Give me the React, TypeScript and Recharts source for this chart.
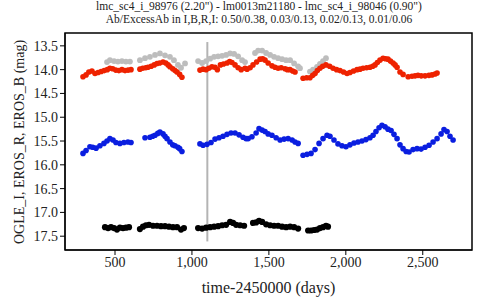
import React from "react";
import {
  ScatterChart,
  Scatter,
  XAxis,
  YAxis,
  ReferenceLine,
  ReferenceArea,
} from "recharts";

// EROS R
const redDays = [
  292, 312, 330, 350, 370, 390, 410, 430, 450, 467, 485, 505, 525, 545, 565, 585, 604,
  662, 680, 700, 714, 735, 755, 773, 790, 812, 830, 845, 857, 875, 890, 903, 920, 935,
  1052, 1072, 1092, 1110, 1130, 1150, 1165, 1185, 1205, 1228, 1245, 1260, 1280, 1300, 1320, 1345,
  1358, 1378, 1397, 1420, 1443, 1460, 1475, 1495, 1520, 1540, 1560, 1580, 1605, 1620, 1637, 1655, 1670,
  1722, 1745, 1767, 1785, 1800, 1815, 1832, 1850, 1871, 1895, 1917, 1940, 1962, 1985, 2008,
  2027, 2050, 2073, 2092, 2112, 2135, 2157, 2175, 2190, 2205, 2222, 2242, 2258, 2274, 2290, 2307,
  2320, 2333, 2352, 2372, 2405, 2430, 2450, 2469, 2490, 2515, 2540, 2560, 2580, 2593,
];
const redMag = [
  14.15, 14.11, 14.05, 14.03, 14.08, 14.06, 14.04, 14.02, 14.0, 13.97, 13.98, 14.01, 14.02, 14.0, 14.02, 14.01, 14.0,
  13.99, 13.97, 13.96, 13.95, 13.93, 13.9, 13.87, 13.86, 13.84, 13.86, 13.9, 13.94, 13.98, 14.02, 14.05, 14.1, 14.16,
  14.01, 13.99, 14.0, 13.97, 13.94, 13.95, 14.0, 13.9, 13.88, 13.86, 13.83, 13.85, 13.9, 13.96, 14.0, 13.97,
  13.99, 13.96, 13.9, 13.84, 13.78, 13.77, 13.8, 13.86, 13.92, 13.95, 13.97, 13.96, 13.98, 14.0, 14.0, 14.03, 14.05,
  14.18, 14.17, 14.17, 14.12, 14.08, 14.02, 13.97, 13.93, 13.9, 13.93, 13.97, 14.0, 14.02, 14.05, 14.08,
  14.06, 14.03, 14.0, 13.99, 13.97, 13.96, 13.95, 13.93, 13.9, 13.85, 13.8, 13.76, 13.77, 13.78, 13.82, 13.86,
  13.9, 13.95, 14.05, 14.1, 14.15, 14.14, 14.13, 14.12, 14.13, 14.13, 14.12, 14.11, 14.09, 14.07,
];

// EROS B
const blueDays = [
  292, 312, 337, 355, 377, 402, 428, 448, 467, 487, 506, 532, 558, 584, 604,
  695, 727, 745, 760, 778, 792, 812, 825, 838, 857, 875, 890, 909, 920, 935,
  1052, 1072, 1098, 1124, 1150, 1176, 1202, 1228, 1254, 1280, 1306, 1332, 1352,
  1365, 1390, 1417, 1436, 1456, 1475, 1495, 1520, 1547, 1573, 1599, 1625, 1651, 1670, 1690,
  1722, 1748, 1774, 1800, 1826, 1852, 1878, 1897, 1923, 1949, 1975, 2001, 2027, 2053, 2079,
  2105, 2131, 2157, 2177, 2196, 2216, 2235, 2255, 2274, 2294, 2313, 2333, 2352, 2372, 2392,
  2411, 2437, 2463, 2489, 2515, 2541, 2567, 2593, 2619, 2638, 2658, 2677, 2697,
];
const blueMag = [
  15.76, 15.7, 15.62, 15.63, 15.65, 15.6, 15.55, 15.5, 15.45, 15.48, 15.53, 15.55, 15.53, 15.52, 15.53,
  15.43, 15.42, 15.4, 15.38, 15.34, 15.31, 15.35, 15.4, 15.45, 15.52, 15.58, 15.6, 15.63, 15.66, 15.72,
  15.56, 15.59, 15.57, 15.53, 15.46, 15.43, 15.4, 15.36, 15.33, 15.33, 15.37, 15.42, 15.45,
  15.45, 15.41, 15.33, 15.24, 15.27, 15.3, 15.35, 15.38, 15.43, 15.48, 15.46, 15.45, 15.48, 15.52, 15.55,
  15.8, 15.78, 15.76, 15.68, 15.55, 15.45, 15.38, 15.4, 15.48, 15.56, 15.6, 15.62, 15.58, 15.54, 15.52,
  15.5, 15.47, 15.43, 15.38, 15.3, 15.22, 15.17, 15.2, 15.25, 15.28, 15.36, 15.45, 15.58, 15.66, 15.72,
  15.73, 15.68, 15.66, 15.67, 15.63, 15.59, 15.52, 15.45, 15.35, 15.26, 15.3, 15.4, 15.48,
];

// second EROS R star, grey
const greyDays = [
  448, 467, 494, 519, 545, 571, 597,
  662, 695, 727, 760, 792, 825, 857, 883, 909, 929, 955,
  1040, 1066, 1092, 1118, 1144, 1170, 1196, 1222, 1248, 1274, 1300, 1326, 1345,
  1410, 1430, 1456, 1482, 1508, 1534, 1560, 1586, 1612, 1638, 1664, 1690, 1702,
  1767, 1787, 1813, 1832, 1852, 1871,
];
const greyMag = [
  13.84, 13.8, 13.82, 13.83, 13.82, 13.83, 13.83,
  13.8, 13.76, 13.73, 13.69, 13.66, 13.7, 13.73, 13.8, 13.9, 13.96, 13.87,
  13.82, 13.86, 13.82, 13.77, 13.73, 13.72, 13.71, 13.69, 13.66, 13.67, 13.72, 13.8, 13.84,
  13.65, 13.6, 13.6, 13.65, 13.69, 13.73, 13.76, 13.78, 13.8, 13.8, 13.87, 13.93, 13.97,
  14.04, 14.0, 13.94, 13.88, 13.82, 13.76,
];

// OGLE I
const blackDays = [
  435, 455, 474, 494, 513, 532, 552, 571, 591,
  662, 682, 701, 721, 747, 773, 799, 825, 851, 877, 903, 929, 948,
  1040, 1066, 1092, 1118, 1144, 1170, 1196, 1222, 1248, 1267, 1287, 1313, 1339,
  1397, 1417, 1436, 1456, 1482, 1508, 1534, 1560, 1586, 1612, 1638, 1664, 1690,
  1755, 1774, 1794, 1813, 1832, 1852, 1871, 1884,
];
const blackMag = [
  17.31, 17.33, 17.31, 17.33, 17.36, 17.32, 17.33, 17.32, 17.31,
  17.35, 17.3, 17.27, 17.26, 17.28, 17.28, 17.29, 17.29, 17.3, 17.31, 17.31, 17.36, 17.33,
  17.33, 17.34, 17.32, 17.31, 17.3, 17.29, 17.27, 17.26, 17.2, 17.22, 17.26, 17.27, 17.28,
  17.22, 17.21, 17.18, 17.2, 17.25, 17.27, 17.28, 17.28, 17.3, 17.31, 17.3, 17.31, 17.34,
  17.38, 17.38, 17.37, 17.36, 17.33, 17.31, 17.28, 17.3,
];

const xTicks = [500, 1000, 1500, 2000, 2500];
const yTicks = [13.5, 14.0, 14.5, 15.0, 15.5, 16.0, 16.5, 17.0, 17.5];

const toPoints = (days: number[], mags: number[]) =>
  days.map((t, i) => ({ t, m: mags[i] }));

const dot = (color: string, r: number) => (props: any) =>
  <circle cx={props.cx} cy={props.cy} r={r} fill={color} />;

const font = "'Liberation Serif', 'Times New Roman', serif";
const tickStyle = { fill: "#222", fontSize: 14, fontFamily: font };

export default function App() {
  return (
    <div style={{ position: "absolute", left: 0, top: 0, width: 480, height: 300, background: "#fff", fontFamily: font, color: "#222" }}>
      <div style={{ position: "absolute", left: 0, top: 0, width: 518, textAlign: "center", fontSize: 11.5, lineHeight: "13px" }}>
        <div>lmc_sc4_i_98976 (2.20") - lm0013m21180 - lmc_sc4_i_98046 (0.90")</div>
        <div>Ab/ExcessAb in I,B,R,I: 0.50/0.38, 0.03/0.13, 0.02/0.13, 0.01/0.06</div>
      </div>
      <div
        style={{
          position: "absolute",
          left: 20,
          top: 142,
          transform: "translate(-50%, -50%) rotate(-90deg)",
          whiteSpace: "nowrap",
          fontSize: 14,
        }}
      >
        OGLE_I, EROS_R, EROS_B (mag)
      </div>
      <ScatterChart
        width={480}
        height={300}
        margin={{ top: 33, right: 8, bottom: 0, left: 0 }}
      >
        <XAxis
          type="number"
          dataKey="t"
          domain={[175, 2820]}
          allowDataOverflow
          ticks={xTicks}
          tickFormatter={(v: number) => v.toLocaleString("en-US")}
          height={50}
          tick={tickStyle}
          tickSize={5}
          stroke="#000"
          label={{ value: "time-2450000 (days)", position: "insideBottom", offset: 7, fill: "#222", fontSize: 16, fontFamily: font }}
        />
        <YAxis
          type="number"
          dataKey="m"
          reversed
          domain={[13.23, 17.79]}
          allowDataOverflow
          ticks={yTicks}
          tickFormatter={(v: number) => v.toFixed(1)}
          width={65}
          tick={tickStyle}
          tickSize={5}
          stroke="#000"
        />
        <ReferenceArea x1={175} x2={2820} y1={13.23} y2={17.79} fill="none" stroke="#000" strokeWidth={1.5} />
        <ReferenceLine
          segment={[{ x: 1100, y: 13.42 }, { x: 1100, y: 17.61 }]}
          stroke="#b4b4b4"
          strokeWidth={2}
        />
        <Scatter data={toPoints(greyDays, greyMag)} shape={dot("#bdbdbd", 2.9)} isAnimationActive={false} />
        <Scatter data={toPoints(redDays, redMag)} shape={dot("#ee2200", 2.8)} isAnimationActive={false} />
        <Scatter data={toPoints(blueDays, blueMag)} shape={dot("#0a1ee0", 2.8)} isAnimationActive={false} />
        <Scatter data={toPoints(blackDays, blackMag)} shape={dot("#000", 3.1)} isAnimationActive={false} />
      </ScatterChart>
    </div>
  );
}
